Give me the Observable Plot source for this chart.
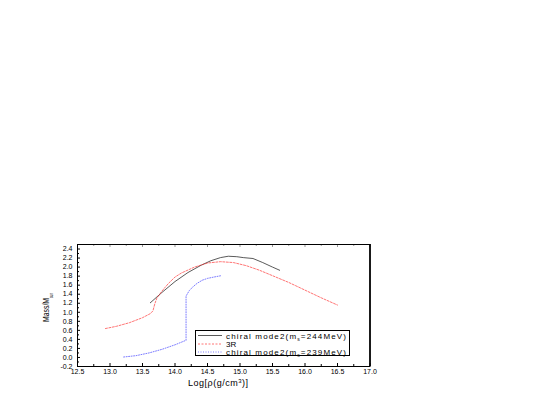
<!DOCTYPE html>
<html><head><meta charset="utf-8">
<script src="https://cdn.jsdelivr.net/npm/d3@7"></script>
<script src="https://cdn.jsdelivr.net/npm/@observablehq/plot@0.6"></script>
<style>body{margin:0;background:#fff} #chart{position:relative;width:545px;height:395px}</style>
</head><body><div id="chart"></div>
<script>
// tick values
const xMajorTicks = [12.5, 13.0, 13.5, 14.0, 14.5, 15.0, 15.5, 16.0, 16.5, 17.0];
const xMinorTicks = [12.75, 13.25, 13.75, 14.25, 14.75, 15.25, 15.75, 16.25, 16.75];
const yMajorTicks = [-0.2, 0.0, 0.2, 0.4, 0.6, 0.8, 1.0, 1.2, 1.4, 1.6, 1.8, 2.0, 2.2, 2.4];
const yMinorTicks = [-0.1, 0.1, 0.3, 0.5, 0.7, 0.9, 1.1, 1.3, 1.5, 1.7, 1.9, 2.1, 2.3];

// series names
const seriesNames = ["chiral mode2(m_s=244MeV)", "3R", "chiral mode2(m_s=239MeV)"];

// chiral mode2 (ms = 244 MeV) — black solid
const chiral244X = [13.62, 13.8, 14.0, 14.2, 14.4, 14.55, 14.7, 14.82, 14.95, 15.05, 15.2, 15.35, 15.5, 15.61];
const chiral244Y = [1.21, 1.44, 1.68, 1.88, 2.04, 2.14, 2.21, 2.24, 2.23, 2.21, 2.19, 2.10, 2.00, 1.93];

// 3R — red dashed
const r3X = [12.93, 13.1, 13.3, 13.5, 13.62, 13.66, 13.69, 13.72, 13.8, 13.9, 14.0, 14.1, 14.3, 14.5, 14.7, 14.9, 15.1, 15.3, 15.5, 15.75, 16.0, 16.25, 16.5];
const r3Y = [0.64, 0.69, 0.77, 0.88, 0.97, 1.03, 1.19, 1.31, 1.47, 1.64, 1.78, 1.87, 2.00, 2.09, 2.12, 2.10, 2.03, 1.93, 1.81, 1.66, 1.49, 1.32, 1.16];

// chiral mode2 (ms = 239 MeV) — blue dotted
const chiral239X = [13.21, 13.4, 13.6, 13.8, 14.0, 14.17, 14.17, 14.22, 14.28, 14.34, 14.42, 14.5, 14.6, 14.71];
const chiral239Y = [0.01, 0.04, 0.10, 0.18, 0.28, 0.38, 1.36, 1.48, 1.57, 1.64, 1.71, 1.75, 1.78, 1.81];

const seriesX = [chiral244X, r3X, chiral239X];
const seriesY = [chiral244Y, r3Y, chiral239Y];
const seriesColors = ["#333333", "#ff3030", "#3030ff"];
const seriesDash = [null, "2,1.5", "1,1.5"];
const seriesOpacity = [0.9, 0.75, 0.7];

const rows = seriesNames.map((name, i) => seriesX[i].map((x, j) => ({name, x, y: seriesY[i][j]})));

const W = 545, H = 395, mL = 77, mR = 175.5, mT = 244, mB = 29;
const plotW = W - mL - mR, plotH = H - mT - mB;

const chart = Plot.plot({
  width: W, height: H,
  marginLeft: mL, marginRight: mR, marginTop: mT, marginBottom: mB,
  style: {background: "#fff", fontFamily: "'Liberation Sans', Arial, sans-serif", fontSize: "7px", color: "#000"},
  x: {domain: [12.5, 17.0], label: null},
  y: {domain: [-0.2, 2.5], label: null},
  marks: [
    Plot.axisX(xMajorTicks, {tickSize: 0, tickPadding: 2.5, tickFormat: d => d.toFixed(1), fontSize: 7, label: null}),
    Plot.axisY(yMajorTicks, {tickSize: 0, tickPadding: 5, tickFormat: d => d.toFixed(1), fontSize: 7, label: null}),
    Plot.tickX(xMajorTicks, {x: d => d, insetTop: plotH - 3, stroke: "#000"}),
    Plot.tickX(xMinorTicks, {x: d => d, insetTop: plotH - 2, stroke: "#000"}),
    Plot.tickX(xMajorTicks, {x: d => d, insetBottom: plotH - 3, stroke: "#999"}),
    Plot.tickX(xMinorTicks, {x: d => d, insetBottom: plotH - 2, stroke: "#999"}),
    Plot.tickY(yMajorTicks, {y: d => d, insetRight: plotW - 3, stroke: "#000"}),
    Plot.tickY(yMinorTicks, {y: d => d, insetRight: plotW - 2, stroke: "#000"}),
    ...rows.map((r, i) => Plot.line(r, {x: "x", y: "y", stroke: seriesColors[i], strokeWidth: 0.9, strokeOpacity: seriesOpacity[i], strokeDasharray: seriesDash[i]})),
    Plot.frame({stroke: "#000"}),
    Plot.ruleX([17.0], {stroke: "#000", strokeWidth: 1.6})
  ]
});

document.getElementById("chart").appendChild(chart);

const svg = d3.select(chart);
const font = "'Liberation Sans', Arial, sans-serif";

// Y axis title: Mass/M_sun
svg.append("text").attr("transform", "translate(48.5,322) rotate(-90)").attr("text-anchor", "start")
  .attr("font-family", font).attr("font-size", 9.5).attr("fill", "#000")
  .attr("textLength", 24).attr("lengthAdjust", "spacingAndGlyphs").text("Mass/M");
svg.append("text").attr("transform", "translate(53,298) rotate(-90)").attr("text-anchor", "start")
  .attr("font-family", font).attr("font-size", 5).attr("fill", "#000")
  .attr("textLength", 5).attr("lengthAdjust", "spacingAndGlyphs").text("sun");

// X axis title: Log[ρ(g/cm³)]
const xt = svg.append("text").attr("x", 188).attr("y", 386).attr("text-anchor", "start")
  .attr("font-family", font).attr("font-size", 9).attr("fill", "#000")
  .attr("textLength", 60).attr("lengthAdjust", "spacing");
xt.append("tspan").text("Log[ρ(g/cm");
xt.append("tspan").attr("font-size", 6).attr("dy", -3.5).text("3");
xt.append("tspan").attr("dy", 3.5).text(")]");

// Legend
const lg = svg.append("g");
lg.append("rect").attr("x", 195.5).attr("y", 330.5).attr("width", 154).attr("height", 25)
  .attr("fill", "#fff").attr("stroke", "#000").attr("stroke-width", 1);
const legendY = [335.5, 344, 352];
const legendLen = [120, null, 120];
seriesNames.forEach((name, i) => {
  lg.append("line").attr("x1", 198).attr("x2", 222).attr("y1", legendY[i]).attr("y2", legendY[i])
    .attr("stroke", seriesColors[i]).attr("stroke-width", 0.9).attr("stroke-opacity", seriesOpacity[i])
    .attr("stroke-dasharray", seriesDash[i]);
  const t = lg.append("text").attr("x", 226).attr("y", legendY[i] + 3).attr("text-anchor", "start")
    .attr("font-family", font).attr("font-size", 8).attr("fill", "#000");
  if (legendLen[i]) t.attr("textLength", legendLen[i]).attr("lengthAdjust", "spacing");
  const parts = name.split(/_(\w)/);
  if (parts.length === 3) {
    t.append("tspan").text(parts[0]);
    t.append("tspan").attr("font-size", 5).attr("dy", 2).text(parts[1]);
    t.append("tspan").attr("dy", -2).text(parts[2]);
  } else {
    t.text(name);
  }
});
</script>
</body></html>
